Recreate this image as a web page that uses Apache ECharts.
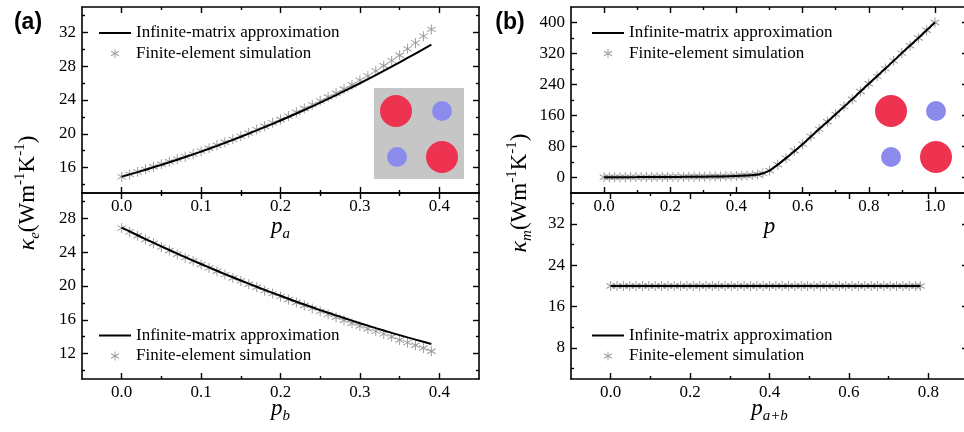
<!DOCTYPE html>
<html>
<head>
<meta charset="utf-8">
<script src="https://cdn.jsdelivr.net/npm/echarts@6/dist/echarts.min.js"></script>
<style type="text/css">
  body {margin:0px;padding:0px;overflow:hidden;background:#fff;}
  #main {width:964px;height:432px;}
</style>
</head>
<body>
<div id="main"></div>
<script type="text/javascript">
// ---- values ----
// (a) upper: kappa_e vs p_a
const pA = [0.00,0.01,0.02,0.03,0.04,0.05,0.06,0.07,0.08,0.09,0.10,0.11,0.12,0.13,0.14,0.15,0.16,0.17,0.18,0.19,
            0.20,0.21,0.22,0.23,0.24,0.25,0.26,0.27,0.28,0.29,0.30,0.31,0.32,0.33,0.34,0.35,0.36,0.37,0.38,0.39];
const keA_line = [14.94,15.20,15.47,15.75,16.04,16.33,16.63,16.94,17.25,17.57,17.90,18.24,18.58,18.93,19.29,19.65,20.02,20.40,20.79,21.18,
                  21.58,21.99,22.40,22.82,23.25,23.69,24.13,24.58,25.04,25.51,25.98,26.46,26.95,27.44,27.94,28.45,28.97,29.49,30.02,30.56];
const keA_fe = [14.9,15.2,15.5,15.8,16.1,16.4,16.7,17.0,17.3,17.6,17.95,18.3,18.65,19.0,19.35,19.7,20.1,20.5,20.9,21.3,
                21.7,22.1,22.55,23.0,23.45,23.9,24.35,24.8,25.3,25.8,26.35,26.85,27.45,28.05,28.65,29.3,30.05,30.75,31.55,32.35];

// (a) lower: kappa_e vs p_b
const pB = [0.00,0.01,0.02,0.03,0.04,0.05,0.06,0.07,0.08,0.09,0.10,0.11,0.12,0.13,0.14,0.15,0.16,0.17,0.18,0.19,
            0.20,0.21,0.22,0.23,0.24,0.25,0.26,0.27,0.28,0.29,0.30,0.31,0.32,0.33,0.34,0.35,0.36,0.37,0.38,0.39];
const keB_line = [26.90,26.45,26.00,25.55,25.12,24.68,24.26,23.83,23.42,23.01,22.60,22.20,21.80,21.41,21.03,20.65,20.28,19.91,19.54,19.19,
                  18.84,18.49,18.14,17.81,17.48,17.15,16.83,16.52,16.21,15.90,15.60,15.31,15.02,14.74,14.46,14.19,13.92,13.66,13.40,13.15];
const keB_fe = [26.85,26.4,25.95,25.5,25.05,24.6,24.2,23.75,23.35,22.95,22.55,22.15,21.75,21.35,20.95,20.6,20.2,19.85,19.45,19.1,
                18.75,18.4,18.05,17.7,17.35,17.0,16.65,16.3,15.95,15.6,15.27,14.95,14.64,14.33,14.0,13.62,13.3,12.99,12.67,12.28];

// (b) upper: kappa_m vs p
const pC_line = [0,0.05,0.10,0.15,0.20,0.25,0.30,0.35,0.40,0.44,0.47,0.50,0.52,0.55,0.60,0.65,0.70,0.75,0.80,0.85,0.90,0.95,1.00];
const kmC_line = [0.8,0.9,1.0,1.2,1.4,1.7,2.1,2.7,3.8,5.5,8.5,18,30,50,86,125,163,202,242,281,321,360,400];
const pC_fe = [0,0.016,0.032,0.048,0.064,0.08,0.096,0.112,0.128,0.144,0.16,0.176,0.192,0.208,0.224,0.24,0.256,0.272,0.288,0.304,
               0.32,0.336,0.352,0.368,0.384,0.40,0.416,0.432,0.448,0.464,0.48,
               0.500,0.525,0.550,0.575,0.600,0.625,0.650,0.675,0.700,0.725,0.750,0.775,0.800,0.825,0.850,0.875,0.900,0.925,0.950,0.975,1.000];
const kmC_fe = [0.8,0.8,0.8,0.9,0.9,1.0,1.0,1.0,1.1,1.1,1.2,1.3,1.3,1.4,1.5,1.6,1.7,1.8,2.0,2.1,
                2.3,2.5,2.7,3.0,3.4,3.8,4.4,5.2,6.2,7.8,10.5,
                18,33,50,69,86,106,125,144,163,183,202,222,242,261,281,301,321,340,360,380,400];

// (b) lower: kappa_m vs p_a+b
const pD_line = [0, 0.78];
const kmD_line = [20, 20];
const pD_fe = [0.000,0.016,0.032,0.048,0.064,0.080,0.096,0.112,0.128,0.144,0.160,0.176,0.192,0.208,0.224,0.240,0.256,0.272,0.288,0.304,
               0.320,0.336,0.352,0.368,0.384,0.400,0.416,0.432,0.448,0.464,0.480,0.496,0.512,0.528,0.544,0.560,0.576,0.592,0.608,0.624,
               0.640,0.656,0.672,0.688,0.704,0.720,0.736,0.752,0.768,0.780];
const kmD_fe = [20,20,20,20,20,20,20,20,20,20,20,20,20,20,20,20,20,20,20,20,
                20,20,20,20,20,20,20,20,20,20,20,20,20,20,20,20,20,20,20,20,
                20,20,20,20,20,20,20,20,20,20];

// tick labels
const xTicksA = [0.0,0.1,0.2,0.3,0.4];
const xMinorA = [0.05,0.15,0.25,0.35];
const yTicksA = [16,20,24,28,32];
const yMinorA = [14,18,22,26,30,34];
const yTicksB = [12,16,20,24,28];
const yMinorB = [10,14,18,22,26,30];
const xTicksC = [0.0,0.2,0.4,0.6,0.8,1.0];
const xMinorC = [0.1,0.3,0.5,0.7,0.9];
const yTicksC = [0,80,160,240,320,400];
const yMinorC = [40,120,200,280,360];
const xTicksD = [0.0,0.2,0.4,0.6,0.8];
const xMinorD = [0.1,0.3,0.5,0.7];
const yTicksD = [8,16,24,32];
const yMinorD = [4,12,20,28,36];

const IM = 'Infinite-matrix approximation';
const FE = 'Finite-element simulation';

// ---- drawing ----
const SERIF = 'Liberation Serif';
const STAR = 'path://M9 0L11 0L11 20L9 20Z M0.84 5.87L1.84 4.13L19.16 14.13L18.16 15.87Z M18.16 4.13L19.16 5.87L1.84 15.87L0.84 14.13Z';
const tickStyle = {color:'#000', width:1.4};

function pairs(xs, ys) {
    return xs.map(function (x, i) { return [x, ys[i]]; });
}

const nameRich = {
    i: {fontFamily:SERIF, fontStyle:'italic', fontSize:23, lineHeight:30, color:'#000'},
    s: {fontFamily:SERIF, fontStyle:'italic', fontSize:15, lineHeight:15, verticalAlign:'bottom', color:'#000'}
};

// four axes per side: main + minor, on both opposite sides
function makeAxes(dim, grid, min, max, majors, minors, fmt, name, nameGap) {
    const posA = dim === 'x' ? 'bottom' : 'left';
    const posB = dim === 'x' ? 'top' : 'right';
    const base = {type:'value', gridIndex:grid, min:min, max:max, splitLine:{show:false},
                  nameMoveOverlap:false};
    const lineOn = {show:true, onZero:false, lineStyle:{color:'#000', width:1.6}};
    const lineOff = {show:false, onZero:false};
    const main = Object.assign({}, base, {
        position:posA, axisLine:lineOn,
        axisTick:{inside:true, length:6, customValues:majors, lineStyle:tickStyle},
        axisLabel:{customValues:majors, margin:dim === 'x' ? 5 : 6, formatter:fmt,
                   fontFamily:SERIF, fontSize:17, color:'#000'}
    });
    if (name) {
        main.name = name;
        main.nameLocation = 'middle';
        main.nameGap = nameGap;
        main.nameTextStyle = {rich:nameRich};
    }
    return [
        main,
        Object.assign({}, base, {position:posA, axisLine:lineOff,
            axisTick:{inside:true, length:3, customValues:minors, lineStyle:tickStyle}, axisLabel:{show:false}}),
        Object.assign({}, base, {position:posB, axisLine:lineOn,
            axisTick:{inside:true, length:6, customValues:majors, lineStyle:tickStyle}, axisLabel:{show:false}}),
        Object.assign({}, base, {position:posB, axisLine:lineOff,
            axisTick:{inside:true, length:3, customValues:minors, lineStyle:tickStyle}, axisLabel:{show:false}})
    ];
}

const f1 = function (v) { return v.toFixed(1); };
const f0 = function (v) { return String(v); };

const xAxes = [].concat(
    makeAxes('x', 0, -0.05, 0.45, xTicksA, xMinorA, f1, '{i|p}{s|a}', 19),
    makeAxes('x', 1, -0.05, 0.45, xTicksA, xMinorA, f1, '{i|p}{s|b}', 15),
    makeAxes('x', 2, -0.1, 1.1, xTicksC, xMinorC, f1, '{i|p}', 19),
    makeAxes('x', 3, -0.1, 0.9, xTicksD, xMinorD, f1, '{i|p}{s|a+b}', 15)
);
const yAxes = [].concat(
    makeAxes('y', 0, 13, 35, yTicksA, yMinorA, f0),
    makeAxes('y', 1, 9, 31, yTicksB, yMinorB, f0),
    makeAxes('y', 2, -40, 440, yTicksC, yMinorC, f0),
    makeAxes('y', 3, 2, 38, yTicksD, yMinorD, f0)
);

function panelSeries(g, xl, yl, xf, yf, smooth) {
    return [
        {type:'line', name:IM, xAxisIndex:4 * g, yAxisIndex:4 * g, data:pairs(xl, yl),
         symbol:'none', smooth:smooth, lineStyle:{color:'#000', width:2}, itemStyle:{color:'#000'}, z:3},
        {type:'scatter', name:FE, xAxisIndex:4 * g, yAxisIndex:4 * g, data:pairs(xf, yf),
         symbol:STAR, symbolSize:10, symbolKeepAspect:true,
         itemStyle:{color:'#858585'}, z:2}
    ];
}

function legendAt(left, top) {
    return {orient:'vertical', left:left, top:top, padding:0, itemGap:3.5, itemWidth:32, itemHeight:9,
            data:[{name:IM, icon:'path://M0 0L32 0L32 2L0 2Z'}, {name:FE}], selectedMode:false,
            textStyle:{fontFamily:SERIF, fontSize:17, lineHeight:17, color:'#000'}};
}

const RED = '#ee3350';
const BLUE = '#8b8bee';
const yRich = {
    k: {fontFamily:SERIF, fontStyle:'italic', fontSize:24, lineHeight:30, fill:'#000'},
    s: {fontFamily:SERIF, fontStyle:'italic', fontSize:15, lineHeight:15, verticalAlign:'bottom', fill:'#000'},
    n: {fontFamily:SERIF, fontSize:23, lineHeight:30, fill:'#000'},
    p: {fontFamily:SERIF, fontSize:15, lineHeight:18, verticalAlign:'top', fill:'#000'}
};

let myChart = echarts.init(document.getElementById('main'));
let option = {
    animation:false,
    backgroundColor:'#fff',
    grid:[
        {left:82, top:7, width:397, height:186, outerBoundsMode:'none'},
        {left:82, top:193, width:397, height:186, outerBoundsMode:'none'},
        {left:571, top:7, width:397, height:186, outerBoundsMode:'none'},
        {left:571, top:193, width:397, height:186, outerBoundsMode:'none'}
    ],
    xAxis:xAxes,
    yAxis:yAxes,
    legend:[legendAt(99, 24.5), legendAt(99, 327), legendAt(592, 24.5), legendAt(592, 327)],
    series:[].concat(
        panelSeries(0, pA, keA_line, pA, keA_fe, false),
        panelSeries(1, pB, keB_line, pB, keB_fe, false),
        panelSeries(2, pC_line, kmC_line, pC_fe, kmC_fe, 0.3),
        panelSeries(3, pD_line, kmD_line, pD_fe, kmD_fe, false)
    ),
    graphic:[
        {type:'text', x:28, y:23, style:{text:'(a)', font:'bold 23px "Liberation Sans"', fill:'#000', align:'center', verticalAlign:'middle'}},
        {type:'text', x:510, y:23, style:{text:'(b)', font:'bold 23px "Liberation Sans"', fill:'#000', align:'center', verticalAlign:'middle'}},
        {type:'text', x:28, y:193, rotation:Math.PI / 2,
         style:{text:'{k|κ}{s|e}{n|(Wm}{p|-1}{n|K}{p|-1}{n|)}', rich:yRich, align:'center', verticalAlign:'middle'}},
        {type:'text', x:520, y:193, rotation:Math.PI / 2,
         style:{text:'{k|κ}{s|m}{n|(Wm}{p|-1}{n|K}{p|-1}{n|)}', rich:yRich, align:'center', verticalAlign:'middle'}},
        // insets
        {type:'rect', shape:{x:374, y:88, width:90, height:91}, style:{fill:'#c6c6c6'}},
        {type:'circle', shape:{cx:396, cy:111, r:16}, style:{fill:RED}},
        {type:'circle', shape:{cx:442, cy:111, r:10}, style:{fill:BLUE}},
        {type:'circle', shape:{cx:397, cy:157, r:10}, style:{fill:BLUE}},
        {type:'circle', shape:{cx:442, cy:157, r:16}, style:{fill:RED}},
        {type:'circle', shape:{cx:891, cy:111, r:16}, style:{fill:RED}},
        {type:'circle', shape:{cx:936, cy:111, r:10}, style:{fill:BLUE}},
        {type:'circle', shape:{cx:891, cy:157, r:10}, style:{fill:BLUE}},
        {type:'circle', shape:{cx:936, cy:157, r:16}, style:{fill:RED}}
    ]
};
myChart.setOption(option);
window.onresize = myChart.resize;
</script>
</body>
</html>
